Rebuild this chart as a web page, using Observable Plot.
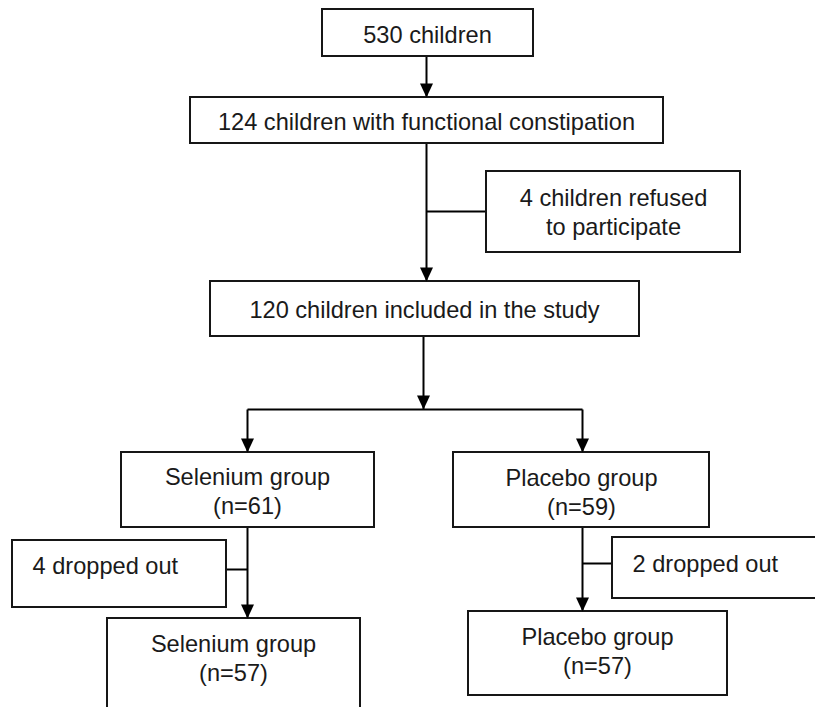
<!DOCTYPE html>
<html>
<head>
<meta charset="utf-8">
<script src="https://cdn.jsdelivr.net/npm/d3@7"></script>
<script src="https://cdn.jsdelivr.net/npm/@observablehq/plot@0.6"></script>
<style>
  html, body { margin: 0; padding: 0; background: #fff; overflow: hidden; }
  #chart svg { display: block; }
</style>
</head>
<body>
<div id="chart"></div>
<script>
// ---- Flowchart content ----
const labels = [
  "530 children",
  "124 children with functional constipation",
  "4 children refused\nto participate",
  "120 children included in the study",
  "Selenium group\n(n=61)",
  "Placebo group\n(n=59)",
  "4 dropped out",
  "2 dropped out",
  "Selenium group\n(n=57)",
  "Placebo group\n(n=57)"
];
// box layout (diagram coordinates)
const boxLeft   = [322, 190, 486, 210, 121, 453,  12, 612, 107, 468];
const boxRight  = [533, 663, 740, 639, 374, 709, 226, 822, 360, 727];
const boxTop    = [  9,  97, 171, 281, 452, 452, 540, 537, 618, 611];
const boxBottom = [ 56, 143, 252, 336, 527, 527, 607, 598, 712, 695];
// label anchor points
const labelX    = [427, 426, 613, 424, 247, 581,  32, 632, 233, 597];
const labelY    = [ 33, 120, 211, 308, 490, 491, 564, 562, 657, 650];
const labelAlign = ["middle","middle","middle","middle","middle","middle","start","start","middle","middle"];

// connector segments [x1, y1, x2, y2]
const segX1 = [426, 426, 423, 247, 247, 582, 247, 582, 426, 226, 582];
const segY1 = [ 56, 143, 336, 409, 409, 409, 527, 527, 211, 569, 563];
const segX2 = [426, 426, 423, 582, 247, 582, 247, 582, 486, 247, 612];
const segY2 = [ 97, 281, 409, 409, 452, 452, 618, 611, 211, 569, 563];
// arrow tips
const tipX = [426, 426, 423, 247, 582, 247, 582];
const tipY = [ 97, 281, 409, 452, 452, 618, 611];

const boxes = labels.map((label, i) => ({
  label, x1: boxLeft[i], x2: boxRight[i], y1: boxTop[i], y2: boxBottom[i],
  tx: labelX[i], ty: labelY[i], align: labelAlign[i]
}));
const segs = segX1.map((_, i) => ({x1: segX1[i], y1: segY1[i], x2: segX2[i], y2: segY2[i]}));
const tips = tipX.map((x, i) => ({x, y: tipY[i]}));

const arrowHead = {
  draw(ctx) {
    ctx.moveTo(0, 0);
    ctx.lineTo(-6.5, -14);
    ctx.lineTo(6.5, -14);
    ctx.closePath();
  }
};

const font = "'Liberation Sans', Arial, Helvetica, sans-serif";
const textColor = "#1a1a1a";

const chart = Plot.plot({
  width: 815,
  height: 707,
  margin: 0,
  style: {background: "#fff", fontFamily: font},
  x: {domain: [0, 815], axis: null},
  y: {domain: [0, 707], reverse: true, axis: null},
  marks: [
    Plot.link(segs, {x1: "x1", y1: "y1", x2: "x2", y2: "y2", stroke: "#000", strokeWidth: 2}),
    Plot.rect(boxes, {x1: "x1", x2: "x2", y1: "y1", y2: "y2", fill: "#fff", stroke: "#161616", strokeWidth: 2}),
    Plot.dot(tips, {x: "x", y: "y", symbol: arrowHead, fill: "#000", stroke: "none", r: 5}),
    Plot.text(boxes.filter(d => d.align === "middle"), {
      x: "tx", y: "ty", text: "label", textAnchor: "middle", lineAnchor: "middle",
      lineHeight: 1.2, fontSize: 23.6, fill: textColor, fontFamily: font
    }),
    Plot.text(boxes.filter(d => d.align === "start"), {
      x: "tx", y: "ty", text: "label", textAnchor: "start", lineAnchor: "middle",
      lineHeight: 1.2, fontSize: 23.6, fill: textColor, fontFamily: font
    })
  ]
});
document.getElementById("chart").appendChild(chart);
</script>
</body>
</html>
